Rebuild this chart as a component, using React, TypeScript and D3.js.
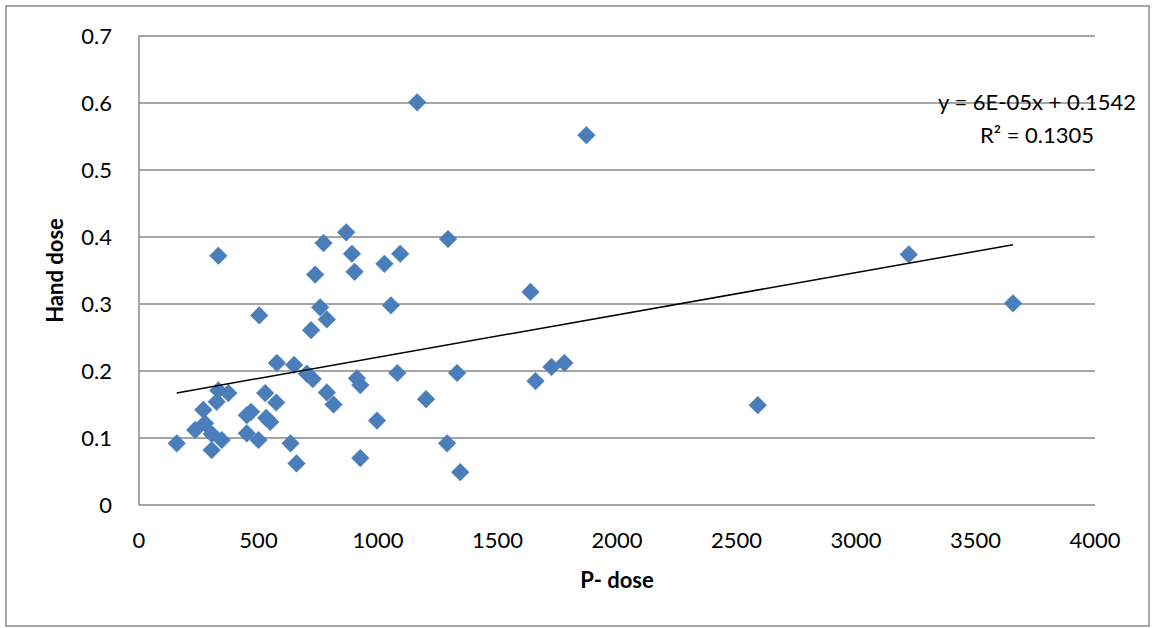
import React from "react";
import * as d3 from "d3";

const pDose: number[] = [
  158, 1164, 1872, 332, 503, 867, 772, 891, 737, 902, 1027, 1093, 1293, 1054, 758, 786, 720,
  1638, 3221, 3657, 2589, 1659, 1726, 1780, 1331, 1201, 1081, 1289, 1344, 996, 926, 659, 634,
  912, 926, 577, 649, 702, 727, 786, 814, 332, 374, 325, 269, 528, 574, 451, 469, 549, 532,
  235, 276, 304, 346, 304, 451, 500,
];
const handDose: number[] = [
  0.092, 0.601, 0.552, 0.372, 0.283, 0.407, 0.391, 0.375, 0.344, 0.348, 0.36, 0.375, 0.397, 0.298, 0.295, 0.277, 0.261,
  0.318, 0.374, 0.301, 0.149, 0.185, 0.206, 0.212, 0.197, 0.158, 0.197, 0.092, 0.049, 0.126, 0.07, 0.062, 0.092,
  0.189, 0.179, 0.212, 0.209, 0.196, 0.188, 0.168, 0.15, 0.171, 0.167, 0.154, 0.142, 0.167, 0.153, 0.134, 0.139, 0.124, 0.13,
  0.112, 0.122, 0.106, 0.097, 0.082, 0.107, 0.097,
];
const xTicks: number[] = [0, 500, 1000, 1500, 2000, 2500, 3000, 3500, 4000];
const yTicks: number[] = [0, 0.1, 0.2, 0.3, 0.4, 0.5, 0.6, 0.7];
const xTitle = "P- dose";
const yTitle = "Hand dose";
const equationLines: string[] = ["y = 6E-05x + 0.1542", "R² = 0.1305"];

export default function App() {
  const W = 1153;
  const H = 628;
  const left = 139;
  const right = 1095;
  const top = 36;
  const bottom = 505;
  const x = d3.scaleLinear().domain([0, 4000]).range([left, right]);
  const y = d3.scaleLinear().domain([0, 0.7]).range([bottom, top]);

  const pts = pDose.map((v, i) => [v, handDose[i]] as [number, number]);
  const mx = d3.mean(pDose) as number;
  const my = d3.mean(handDose) as number;
  let sxy = 0;
  let sxx = 0;
  pts.forEach(([a, b]) => {
    sxy += (a - mx) * (b - my);
    sxx += (a - mx) * (a - mx);
  });
  const slope = sxy / sxx;
  const icpt = my - slope * mx;
  const [xmin, xmax] = d3.extent(pDose) as [number, number];
  const trend = d3.line<number>().x((v) => x(v)).y((v) => y(icpt + slope * v));

  const font = "Lato, 'Open Sans', sans-serif";
  const diamond = d3.symbol().type(d3.symbolDiamond2).size(200)() as string;

  return (
    <svg
      width={W}
      height={H}
      style={{ position: "fixed", left: 0, top: 0, background: "#fff" }}
      fontFamily={font}
    >
      <rect x={6} y={6} width={1143} height={620} fill="#fff" stroke="#8a8a8a" strokeWidth={1.5} />
      {yTicks.map((t) => (
        <line key={"g" + t} x1={left} x2={right} y1={y(t)} y2={y(t)} stroke="#878787" strokeWidth={1.5} />
      ))}
      <line x1={left} x2={left} y1={top} y2={bottom} stroke="#878787" strokeWidth={1.5} />
      {yTicks.map((t) => (
        <text key={"yt" + t} x={112} y={y(t)} dy="0.35em" textAnchor="end" fontSize={22} fill="#000">
          {t === 0 ? "0" : t.toFixed(1)}
        </text>
      ))}
      {xTicks.map((t) => (
        <text key={"xt" + t} x={x(t)} y={540} dy="0.35em" textAnchor="middle" fontSize={22} fill="#000">
          {t}
        </text>
      ))}
      <text x={(left + right) / 2} y={580} dy="0.35em" textAnchor="middle" fontSize={22} fontWeight="bold">
        {xTitle}
      </text>
      <text
        transform={`translate(55,${(top + bottom) / 2}) rotate(-90)`}
        dy="0.35em"
        textAnchor="middle"
        fontSize={22}
        fontWeight="bold"
      >
        {yTitle}
      </text>
      {pts.map(([a, b], i) => (
        <path key={"p" + i} d={diamond} transform={`translate(${x(a)},${y(b)})`} fill="#4a7ebb" stroke="#4a7ebb" strokeWidth={0.5} />
      ))}
      <path d={trend([xmin, xmax]) as string} fill="none" stroke="#000" strokeWidth={1.5} />
      {equationLines.map((s, i) => (
        <text key={"eq" + i} x={1037} y={102 + i * 33} dy="0.35em" textAnchor="middle" fontSize={22} fill="#000">
          {s}
        </text>
      ))}
    </svg>
  );
}
